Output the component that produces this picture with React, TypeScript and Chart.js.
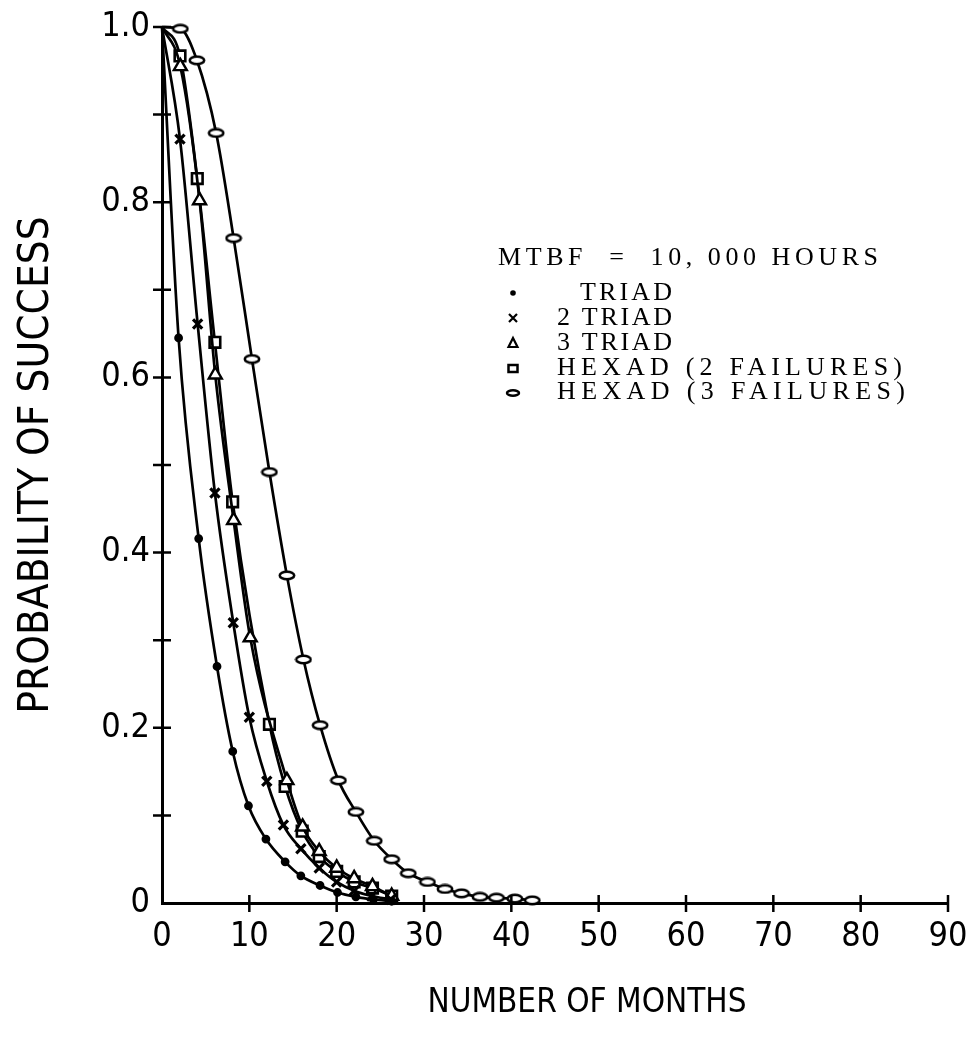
import React, { useEffect, useRef } from "react";
import { Chart, registerables } from "chart.js";

Chart.register(...registerables);

// ---- data ----
const triadX = [0, 1.9, 4.2, 6.3, 8.1, 9.9, 11.9, 14.1, 15.9, 18.1, 20.1, 22.2, 24.2, 26.3];
const triadY = [1.0, 0.645, 0.416, 0.27, 0.173, 0.111, 0.073, 0.047, 0.031, 0.02, 0.012, 0.007, 0.004, 0.002];

const triad2X = [0, 2.06, 4.08, 6.06, 8.16, 10.0, 12.0, 13.9, 15.9, 18.0, 20.0, 22.0, 24.0, 26.2];
const triad2Y = [1.0, 0.872, 0.661, 0.468, 0.32, 0.212, 0.139, 0.089, 0.062, 0.04, 0.024, 0.014, 0.008, 0.004];

const triad3X = [0, 2.1, 4.3, 6.1, 8.2, 10.1, 14.3, 16.1, 18.0, 20.0, 22.0, 24.1, 26.3];
const triad3Y = [1.0, 0.955, 0.802, 0.603, 0.437, 0.303, 0.14, 0.087, 0.059, 0.04, 0.028, 0.019, 0.008];

const hexad2X = [0, 2.06, 4.04, 6.06, 8.09, 12.3, 14.1, 16.05, 18.0, 20.0, 22.0, 24.1, 26.3];
const hexad2Y = [1.0, 0.967, 0.827, 0.64, 0.458, 0.204, 0.133, 0.082, 0.053, 0.036, 0.024, 0.017, 0.008];

const hexad3X = [0, 2.1, 4.0, 6.2, 8.2, 10.3, 12.3, 14.3, 16.2, 18.1, 20.2, 22.2, 24.3, 26.3, 28.2, 30.4, 32.4, 34.3, 36.4, 38.3, 40.4, 42.4];
const hexad3Y = [1.0, 0.998, 0.962, 0.879, 0.759, 0.621, 0.492, 0.374, 0.278, 0.203, 0.14, 0.104, 0.071, 0.05, 0.034, 0.024, 0.016, 0.011, 0.007, 0.006, 0.005, 0.003];

const seriesNames = ["TRIAD", "2 TRIAD", "3 TRIAD", "HEXAD (2 FAILURES)", "HEXAD (3 FAILURES)"];
const legendHeader = "MTBF  =  10, 000 HOURS";

const xTickValues = [10, 20, 30, 40, 50, 60, 70, 80, 90];
const xTickLabels = ["0", "10", "20", "30", "40", "50", "60", "70", "80", "90"];
const yTickValues = [0.1, 0.2, 0.3, 0.4, 0.5, 0.6, 0.7, 0.8, 0.9, 1.0];
const yTickLabels: Record<number, string> = { 0: "0", 2: "0.2", 4: "0.4", 6: "0.6", 8: "0.8", 10: "1.0" };

const xTitle = "NUMBER OF MONTHS";
const yTitle = "PROBABILITY OF SUCCESS";

const SANS = '"Liberation Sans Narrow", "DejaVu Sans Condensed", "Roboto", sans-serif';
const SERIF = '"Liberation Serif", "DejaVu Serif", serif';

function pts(xs: number[], ys: number[]) {
  return xs.map((x, i) => ({ x, y: ys[i] }));
}

function makeEllipse(w: number, h: number, lw: number) {
  const c = document.createElement("canvas");
  c.width = w;
  c.height = h;
  const g = c.getContext("2d")!;
  g.beginPath();
  g.ellipse(w / 2, h / 2, w / 2 - lw / 2 - 0.5, h / 2 - lw / 2 - 0.5, 0, 0, Math.PI * 2);
  g.fillStyle = "#fff";
  g.fill();
  g.lineWidth = lw;
  g.strokeStyle = "#000";
  g.stroke();
  return c;
}

const crossTicksPlugin = {
  id: "crossTicks",
  afterDraw(chart: any) {
    const { ctx, scales, chartArea } = chart;
    const xs = scales.x;
    const ys = scales.y;
    const x0 = xs.getPixelForValue(0);
    const y0 = ys.getPixelForValue(0);
    ctx.save();
    ctx.strokeStyle = "#000";
    ctx.lineWidth = 2.5;
    ctx.beginPath();
    yTickValues.forEach((v) => {
      const py = ys.getPixelForValue(v);
      ctx.moveTo(x0 - 9, py);
      ctx.lineTo(x0 + 9, py);
    });
    xTickValues.forEach((v) => {
      const px = xs.getPixelForValue(v);
      ctx.moveTo(px, y0 - 8);
      ctx.lineTo(px, y0 + 9);
    });
    ctx.stroke();
    // x-axis title (offset to the right as in the reference)
    ctx.fillStyle = "#000";
    ctx.font = "33px " + SANS;
    ctx.textAlign = "center";
    ctx.textBaseline = "middle";
    ctx.fillText(xTitle, chartArea.left + 425, chartArea.bottom + 100);
    ctx.restore();
  },
};

function spacedText(ctx: CanvasRenderingContext2D, text: string, x: number, y: number, targetW: number) {
  (ctx as any).letterSpacing = "0px";
  const w = ctx.measureText(text).width;
  const sp = Math.max(0, (targetW - w) / (text.length - 1));
  (ctx as any).letterSpacing = sp + "px";
  ctx.fillText(text, x, y);
  (ctx as any).letterSpacing = "0px";
}

const legendPlugin = {
  id: "textLegend",
  afterDraw(chart: any) {
    const { ctx, chartArea } = chart;
    const L = chartArea.left;
    const T = chartArea.top;
    ctx.save();
    ctx.fillStyle = "#000";
    ctx.strokeStyle = "#000";
    ctx.textBaseline = "middle";
    ctx.textAlign = "left";
    ctx.font = "26px " + SERIF;
    spacedText(ctx, legendHeader, L + 336, T + 231, 380);

    const mx = L + 351;
    const tx = L + 395;
    const rows = [T + 266, T + 291, T + 316, T + 341, T + 365];
    const widths = [92, 115, 115, 345, 348];
    rows.forEach((ry, i) => {
      const label = seriesNames[i];
      const lx = i === 0 ? tx + 23 : tx;
      spacedText(ctx, label, lx, ry, widths[i]);
      ctx.lineWidth = 2.2;
      ctx.beginPath();
      if (i === 0) {
        ctx.arc(mx, ry, 2.8, 0, Math.PI * 2);
        ctx.fill();
      } else if (i === 1) {
        ctx.moveTo(mx - 4, ry - 4);
        ctx.lineTo(mx + 4, ry + 4);
        ctx.moveTo(mx + 4, ry - 4);
        ctx.lineTo(mx - 4, ry + 4);
        ctx.stroke();
      } else if (i === 2) {
        ctx.moveTo(mx, ry - 5);
        ctx.lineTo(mx + 4.5, ry + 4);
        ctx.lineTo(mx - 4.5, ry + 4);
        ctx.closePath();
        ctx.stroke();
      } else if (i === 3) {
        ctx.lineWidth = 2.5;
        ctx.strokeRect(mx - 4.5, ry - 3, 9, 7);
      } else {
        ctx.lineWidth = 2.5;
        ctx.ellipse(mx, ry + 1, 6, 2.8, 0, 0, Math.PI * 2);
        ctx.stroke();
      }
    });
    ctx.restore();
  },
};

export default function App() {
  const ref = useRef<HTMLCanvasElement | null>(null);

  useEffect(() => {
    if (!ref.current) return;
    const ellipse = makeEllipse(18, 11, 2.5);
    const hideFirst = (r: number) => (c: any) => (c.dataIndex === 0 ? 0 : r);
    const base = {
      borderColor: "#000",
      borderWidth: 2.7,
      pointBorderColor: "#000",
      pointBorderWidth: 2.4,
      fill: false,
      clip: false as const,
      cubicInterpolationMode: "monotone" as const,
    };
    const chart = new Chart(ref.current, {
      type: "line",
      data: {
        datasets: [
          {
            ...base,
            label: seriesNames[0],
            data: pts(triadX, triadY),
            pointStyle: "circle",
            pointRadius: hideFirst(3.2),
            pointBackgroundColor: "#000",
          },
          {
            ...base,
            label: seriesNames[1],
            data: pts(triad2X, triad2Y),
            pointStyle: "crossRot",
            pointRadius: hideFirst(6.5),
            pointBorderWidth: 3.2,
            pointBackgroundColor: "#fff",
          },
          {
            ...base,
            label: seriesNames[2],
            data: pts(triad3X, triad3Y),
            pointStyle: "triangle",
            pointRadius: hideFirst(7.5),
            pointBackgroundColor: "#fff",
          },
          {
            ...base,
            label: seriesNames[3],
            data: pts(hexad2X, hexad2Y),
            pointStyle: "rect",
            pointRadius: hideFirst(7.5),
            pointBorderWidth: 2.6,
            pointBackgroundColor: "#fff",
          },
          {
            ...base,
            label: seriesNames[4],
            data: pts(hexad3X, hexad3Y),
            pointStyle: ellipse as any,
            pointRadius: hideFirst(8),
            pointBackgroundColor: "#fff",
          },
        ],
      },
      options: {
        responsive: false,
        animation: false,
        events: [],
        layout: { padding: { left: 0, top: 27, right: 21, bottom: 0 } },
        plugins: { legend: { display: false }, tooltip: { enabled: false }, title: { display: false } },
        scales: {
          x: {
            type: "linear",
            min: 0,
            max: 90,
            afterFit: (s: any) => {
              s.height = 138;
              s.paddingLeft = 0;
              s.paddingRight = 0;
            },
            grid: { display: true, drawOnChartArea: false, drawTicks: false },
            border: { display: true, color: "#000", width: 3 },
            ticks: {
              stepSize: 10,
              autoSkip: false,
              maxRotation: 0,
              padding: 14,
              color: "#000",
              font: { family: SANS, size: 34 },
              callback: (v: any) => xTickLabels[Math.round(Number(v) / 10)] ?? "",
            },
            title: { display: false },
          },
          y: {
            type: "linear",
            min: 0,
            max: 1,
            afterFit: (s: any) => {
              s.width = 162;
              s.paddingTop = 0;
              s.paddingBottom = 0;
            },
            grid: { display: true, drawOnChartArea: false, drawTicks: false },
            border: { display: true, color: "#000", width: 3 },
            ticks: {
              stepSize: 0.1,
              autoSkip: false,
              padding: 12,
              color: "#000",
              font: { family: SANS, size: 34 },
              callback: (v: any) => yTickLabels[Math.round(Number(v) * 10)] ?? "",
            },
            title: {
              display: true,
              text: yTitle,
              color: "#000",
              font: { family: SANS, size: 42 },
              padding: { top: 12, bottom: 0 },
            },
          },
        },
      },
      plugins: [crossTicksPlugin, legendPlugin],
    });
    return () => chart.destroy();
  }, []);

  return (
    <div style={{ position: "absolute", left: 0, top: 0, width: 969, height: 1041, background: "#fff" }}>
      <canvas ref={ref} width={969} height={1041} style={{ display: "block" }} />
    </div>
  );
}
